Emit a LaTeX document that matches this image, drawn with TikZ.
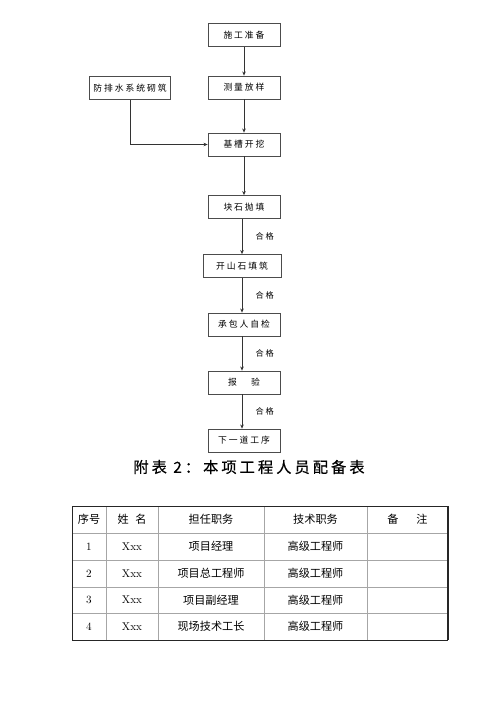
\documentclass[tikz,border=0pt]{standalone}
\usepackage{fontspec}
\usetikzlibrary{arrows.meta, positioning}
\newfontfamily\cjk{Noto Sans CJK SC}
\newfontfamily\cjkbox[LetterSpace=22]{Noto Sans CJK SC}
\newfontfamily\cjktitle[LetterSpace=20, FakeBold=0.6]{Noto Sans CJK SC}
\tikzset{
  stepbox/.style={draw=black!70, line width=0.6pt, fill=white, inner sep=0pt,
              minimum width=#1, minimum height=0.69cm,
              font=\cjkbox\fontsize{7.5}{8}\selectfont},
  stepbox/.default=2.16cm,
  sig/.style={-{Stealth[length=3.5pt,width=3pt]}, line width=0.6pt, draw=black!80},
  okl/.style={font=\cjkbox\fontsize{7}{7}\selectfont, inner sep=0pt},
  tbout/.style={line width=0.8pt, draw=black!85},
  tbin/.style={line width=0.5pt, draw=black!35},
  cell/.style={font=\cjk\fontsize{9.5}{11}\selectfont, inner sep=0pt},
}

\begin{document}
\begin{tikzpicture}[x=0.03cm, y=-0.03cm]
  \useasboundingbox (0,0) rectangle (500,706);
  % flow chart
  \node[stepbox] (sg)  at (244,35)    {施工准备};
  \node[stepbox] (cl)  at (244,87.5)  {测量放样};
  \node[stepbox=2.43cm] (fps) at (130,88) {防排水系统砌筑};
  \node[stepbox] (jc)  at (244,144.5) {基槽开挖};
  \node[stepbox] (ks)  at (244,207)   {块石抛填};
  \node[stepbox=2.34cm] (kss) at (242,266) {开山石填筑};
  \node[stepbox] (cb)  at (244,324.5) {承包人自检};
  \node[stepbox] (by)  at (244,382.5) {报\hspace{1.6em}验};
  \node[stepbox] (xy)  at (244,440.5) {下一道工序};
  \draw[sig] (sg) -- (cl);
  \draw[sig] (cl) -- (jc);
  \draw[sig] (fps.south) |- (jc.west);
  \draw[sig] (jc) -- (ks);
  \draw[sig] (ks.south -| kss.center) -- node[okl, right=0.4cm] (ok1) {合格} (kss);
  \draw[sig] (kss) -- node[okl, right=0.4cm] (ok2) {合格} (kss |- cb.north);
  \draw[sig] (cb.south -| kss.center) -- node[okl, right=0.4cm] (ok3) {合格} (kss |- by.north);
  \draw[sig] (by.south -| kss.center) -- node[okl, right=0.4cm] (ok4) {合格} (kss |- xy.north);
  % table title
  \node[font=\cjktitle\fontsize{13}{15}\selectfont, inner sep=0pt] (ttl) at (249,467)
    {附表 2：本项工程人员配备表};
  % table
  \foreach \yy in {533,560,587,613}
    \draw[tbin] (72,\yy) -- (448,\yy);
  \foreach \xx in {106,158,264,367}
    \draw[tbin] (\xx,506) -- (\xx,640);
  \draw[tbout] (72,640) -- (72,506) -- (448,506);
  \draw[tbout] (72,640) -- (448,640);
  \draw[tbout, line width=1.3pt] (448,506) -- (448,640);
  \node[cell] (h1) at (89,519.5)    {序号};
  \node[cell] (h2) at (132,519.5)   {姓\hspace{0.6em}名};
  \node[cell] (h3) at (211,519.5)   {担任职务};
  \node[cell] (h4) at (315.5,519.5) {技术职务};
  \node[cell] (h5) at (407.5,519.5) {备\hspace{1.6em}注};
  \foreach \i/\yy/\job in {1/546.5/项目经理, 2/573.5/项目总工程师,
                           3/600/项目副经理, 4/626.5/现场技术工长} {
    \node[cell, font=\fontsize{9.5}{11}\selectfont] (n\i) at (89,\yy) {\i};
    \node[cell, font=\fontsize{9.5}{11}\selectfont] (x\i) at (132,\yy) {Xxx};
    \node[cell] (j\i) at (211,\yy) {\job};
    \node[cell] (t\i) at (315.5,\yy) {高级工程师};
  }
\end{tikzpicture}
\end{document}
